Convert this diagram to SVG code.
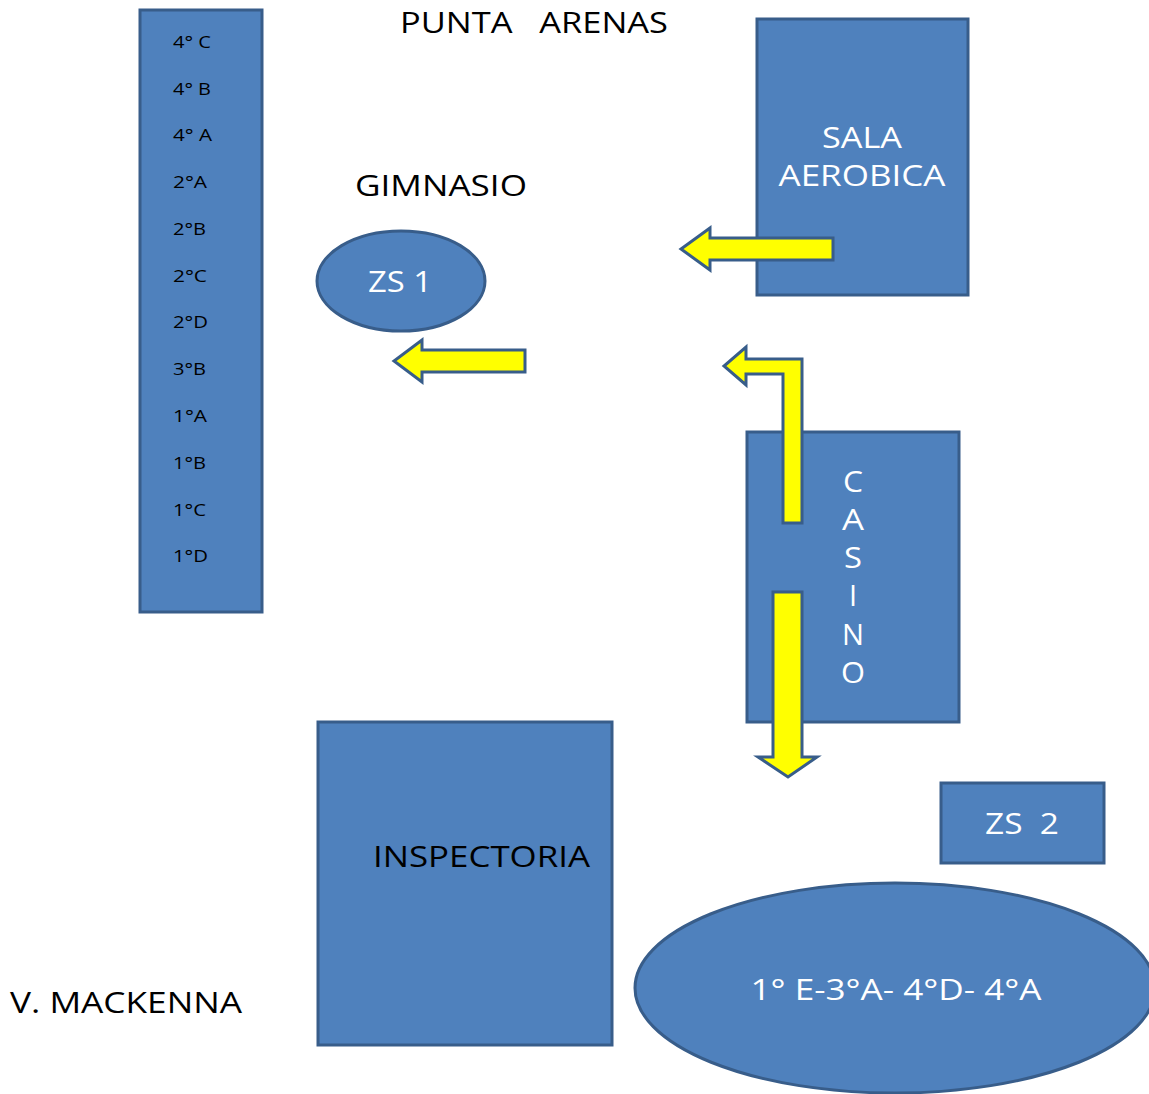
<svg xmlns="http://www.w3.org/2000/svg" width="1149" height="1094" viewBox="0 0 1149 1094">
<style>
.box{fill:#4f81bd;stroke:#385d8a;stroke-width:3}
.arr{fill:#ffff00;stroke:#385d8a;stroke-width:3;stroke-linejoin:miter}
text{font-family:"Open Sans","DejaVu Sans",sans-serif}
.lbl{font-size:29px;fill:#000}
.wl{font-size:29px;fill:#fff;text-anchor:middle}
.sm{font-size:17px;fill:#000}
</style>
<rect width="1149" height="1094" fill="#fff"/>
<g id="cursos">
<rect class="box" x="140" y="10" width="122" height="602"/>
<text class="sm" x="173" y="48" textLength="38" lengthAdjust="spacingAndGlyphs">4° C</text>
<text class="sm" x="173" y="95" textLength="38" lengthAdjust="spacingAndGlyphs">4° B</text>
<text class="sm" x="173" y="141" textLength="39" lengthAdjust="spacingAndGlyphs">4° A</text>
<text class="sm" x="173" y="188" textLength="34" lengthAdjust="spacingAndGlyphs">2°A</text>
<text class="sm" x="173" y="235" textLength="33" lengthAdjust="spacingAndGlyphs">2°B</text>
<text class="sm" x="173" y="282" textLength="34" lengthAdjust="spacingAndGlyphs">2°C</text>
<text class="sm" x="173" y="328" textLength="35" lengthAdjust="spacingAndGlyphs">2°D</text>
<text class="sm" x="173" y="375" textLength="33" lengthAdjust="spacingAndGlyphs">3°B</text>
<text class="sm" x="173" y="422" textLength="34" lengthAdjust="spacingAndGlyphs">1°A</text>
<text class="sm" x="173" y="469" textLength="33" lengthAdjust="spacingAndGlyphs">1°B</text>
<text class="sm" x="173" y="516" textLength="33" lengthAdjust="spacingAndGlyphs">1°C</text>
<text class="sm" x="173" y="562" textLength="35" lengthAdjust="spacingAndGlyphs">1°D</text>
</g>
<g id="punta-arenas"><text class="lbl" x="400" y="33" xml:space="preserve" textLength="268" lengthAdjust="spacingAndGlyphs">PUNTA   ARENAS</text></g>
<g id="gimnasio"><text class="lbl" x="355" y="196" textLength="172" lengthAdjust="spacingAndGlyphs">GIMNASIO</text></g>
<g id="zs1">
<ellipse class="box" cx="401" cy="281" rx="84" ry="50"/>
<text class="wl" x="400" y="292" textLength="64" lengthAdjust="spacingAndGlyphs">ZS 1</text>
</g>
<g id="sala-aerobica">
<rect class="box" x="757" y="19" width="211" height="276"/>
<text class="wl" x="862" y="148" textLength="80" lengthAdjust="spacingAndGlyphs">SALA</text>
<text class="wl" x="862" y="186" textLength="167" lengthAdjust="spacingAndGlyphs">AEROBICA</text>
</g>
<g id="casino">
<rect class="box" x="747" y="432" width="212" height="290"/>
<text class="wl" x="853" y="492" textLength="20" lengthAdjust="spacingAndGlyphs">C</text>
<text class="wl" x="853" y="530" textLength="22" lengthAdjust="spacingAndGlyphs">A</text>
<text class="wl" x="853" y="568" textLength="18" lengthAdjust="spacingAndGlyphs">S</text>
<text class="wl" x="853" y="606">I</text>
<text class="wl" x="853" y="645" textLength="22" lengthAdjust="spacingAndGlyphs">N</text>
<text class="wl" x="853" y="683" textLength="24" lengthAdjust="spacingAndGlyphs">O</text>
</g>
<g id="inspectoria">
<rect class="box" x="318" y="722" width="294" height="323"/>
<text class="lbl" x="373" y="867" textLength="217" lengthAdjust="spacingAndGlyphs">INSPECTORIA</text>
</g>
<g id="zs2">
<rect class="box" x="941" y="783" width="163" height="80"/>
<text class="wl" x="1022" y="834" xml:space="preserve" textLength="74" lengthAdjust="spacingAndGlyphs">ZS  2</text>
</g>
<g id="grupo">
<ellipse class="box" cx="895" cy="988" rx="260" ry="105"/>
<text class="wl" x="896" y="1000" textLength="291" lengthAdjust="spacingAndGlyphs">1° E-3°A- 4°D- 4°A</text>
</g>
<g id="v-mackenna"><text class="lbl" x="10" y="1013" textLength="232" lengthAdjust="spacingAndGlyphs">V. MACKENNA</text></g>
<g id="connectors">
<path class="arr" d="M833,238 L710,238 L710,228 L681,249 L710,270 L710,260 L833,260 Z"/>
<path class="arr" d="M525,350 L422,350 L422,340 L394,361 L422,382 L422,372 L525,372 Z"/>
<path class="arr" d="M802,523 L802,359 L746,359 L746,347 L724,366 L746,385 L746,374 L783,374 L783,523 Z"/>
<path class="arr" d="M773,592 L802,592 L802,757 L817,757 L788,777 L758,757 L773,757 Z"/>
</g>
</svg>
